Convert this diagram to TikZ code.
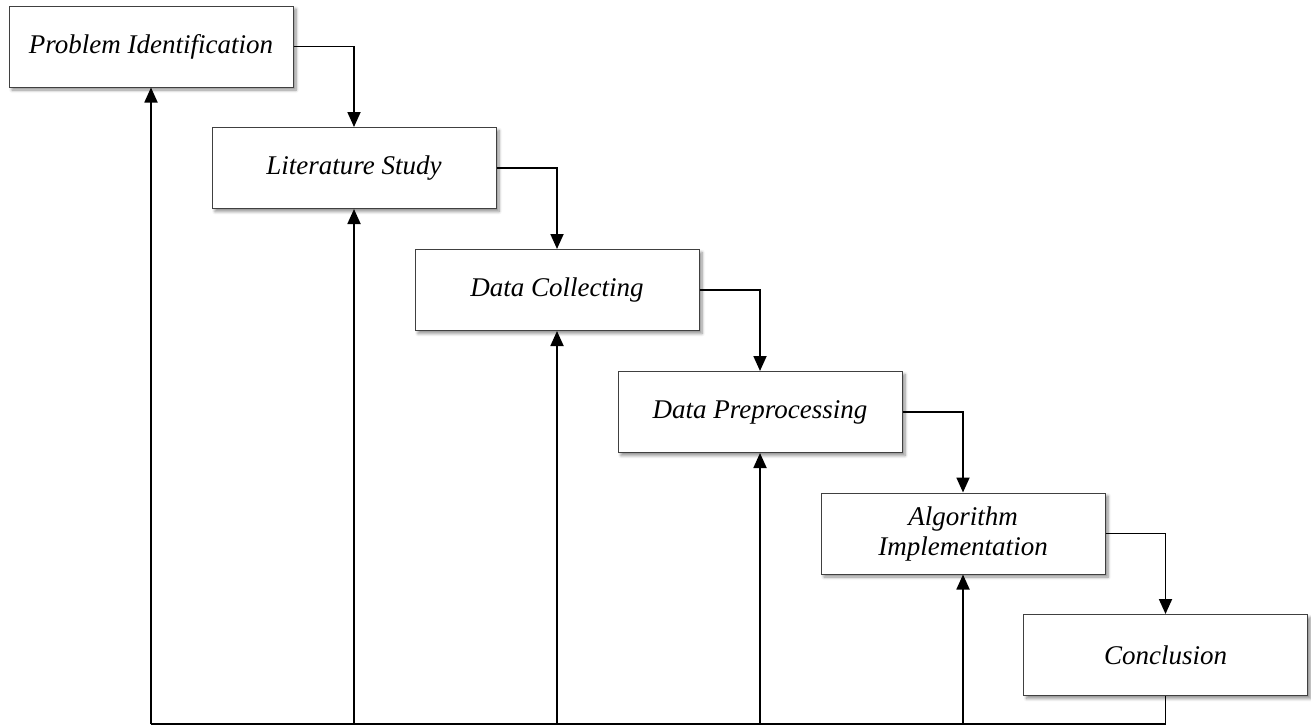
\documentclass[tikz,border=0pt]{standalone}
\usepackage{fontspec}
\setmainfont{Liberation Serif}
\usetikzlibrary{arrows.meta,shadows.blur}
\begin{document}
\begin{tikzpicture}[x=1pt,y=-1pt,
  stepbox/.style={draw=black!75, line width=1pt, fill=white, minimum width=284pt, minimum height=81pt, inner sep=0pt, align=center,
    font=\fontsize{27}{30}\selectfont\itshape,
    blur shadow={shadow xshift=3pt, shadow yshift=-3pt, shadow blur steps=6, shadow blur radius=3pt, shadow opacity=45}},
  conn/.style={line width=1.8pt, -{Triangle[width=13pt,length=15pt]}},
  plain/.style={line width=1.8pt}]
\useasboundingbox (0,0) rectangle (1311,726);
\node[stepbox] (b1) at (151,46.5) {Problem Identification};
\node[stepbox] (b2) at (354,168) {Literature Study};
\node[stepbox] (b3) at (557,290) {Data Collecting};
\node[stepbox] (b4) at (760,412) {Data Preprocessing};
\node[stepbox] (b5) at (963,533.5) {Algorithm\\Implementation};
\node[stepbox] (b6) at (1165.5,655) {Conclusion};
\draw[conn] (b1.east) -| (b2.north);
\draw[conn] (b2.east) -| (b3.north);
\draw[conn] (b3.east) -| (b4.north);
\draw[conn] (b4.east) -| (b5.north);
\draw[conn] (b5.east) -| (b6.north);
\coordinate (c6) at (1165.5,724);
\coordinate (c1) at (151,724);
\draw[plain] (b6.south) -- (c6) -- (c1);
\foreach \n/\x in {b1/151,b2/354,b3/557,b4/760,b5/963}{
  \coordinate (f\n) at (\x,724);
  \draw[conn] (f\n) -- (\n.south);
}
\end{tikzpicture}
\end{document}
